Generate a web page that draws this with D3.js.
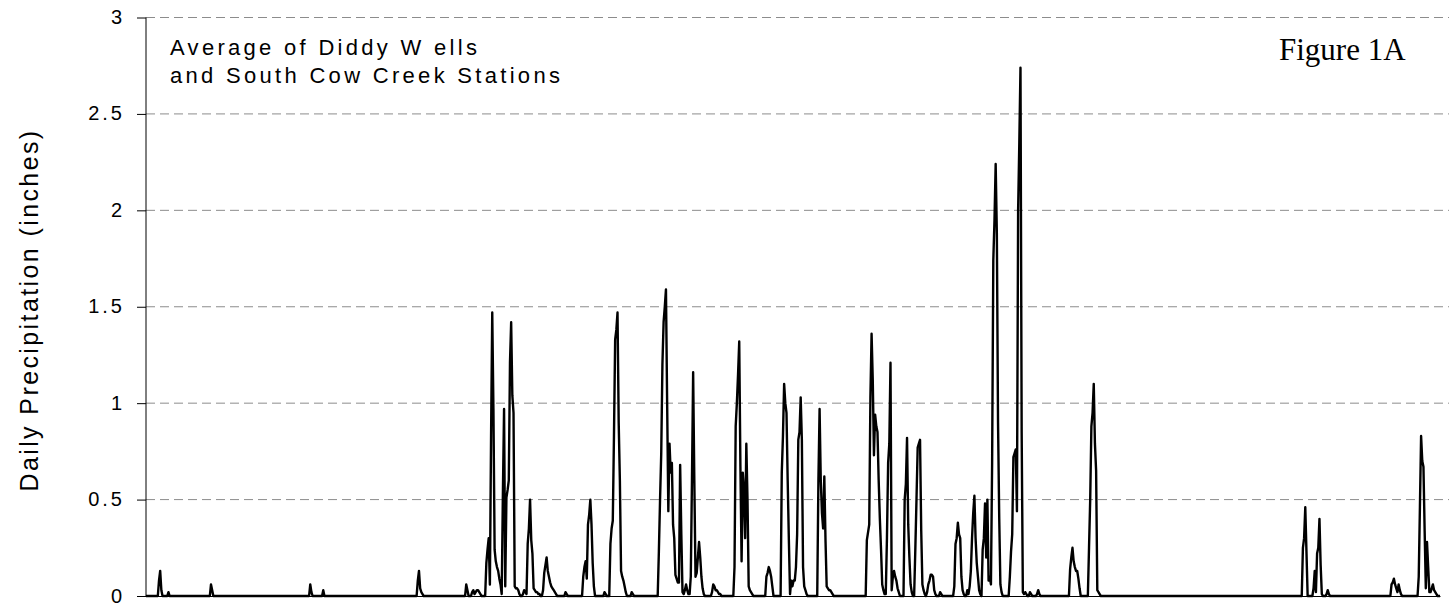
<!DOCTYPE html>
<html>
<head>
<meta charset="utf-8">
<script src="https://cdn.jsdelivr.net/npm/d3@7"></script>
<style>
  body { margin: 0; background: #fff; }
  svg { display: block; }
</style>
</head>
<body>
<div id="svg"></div>
<script>
//number of days on the x axis (no labels on it)
let nDays = 1096;
let yTicks = [0, 0.5, 1, 1.5, 2, 2.5, 3];
let yTickLabels = ['0', '0.5', '1', '1.5', '2', '2.5', '3'];
let yTitle = 'Daily Precipitation (inches)';
let noteLines = ['Average of Diddy W ells', 'and South Cow Creek Stations'];
let figLabel = 'Figure 1A';

//rain storms: first day of each storm and the daily amounts (inches) from that day on
let stormStart = [11, 19, 55, 139, 150, 230, 271, 276, 288, 319, 336, 355, 370, 388, 393, 411, 434, 479,
  498, 525, 538, 569, 610, 642, 651, 661, 672, 684, 695, 708, 731, 748, 754, 782, 798, 979, 988, 999, 1054, 1077];
let stormRain = [
  [0.08, 0.13, 0.03],
  [0.02],
  [0.06, 0.03],
  [0.06, 0.02],
  [0.03],
  [0.08, 0.13, 0.04, 0.02, 0.01],
  [0.06, 0.03],
  [0.02, 0.03, 0.01, 0.02, 0.03, 0.03, 0.02, 0.01],
  [0.17, 0.24, 0.3, 0.06, 0.83, 1.47, 0.97, 0.24, 0.18, 0.15, 0.13, 0.09, 0.06, 0.01, 0.53, 0.97, 0.05, 0.51, 0.55, 0.6, 1.21, 1.42, 1.04, 0.95, 0.05, 0.04, 0.04, 0.03, 0.01],
  [0.01, 0.03, 0.02, 0.01, 0.27, 0.35, 0.5, 0.29, 0.22, 0.04, 0.03, 0.02, 0.02, 0.01, 0.01],
  [0.03, 0.12, 0.16, 0.2, 0.13, 0.1, 0.07, 0.05, 0.04, 0.03, 0.02, 0.01],
  [0.02, 0.01],
  [0.1, 0.15, 0.18, 0.09, 0.37, 0.42, 0.5, 0.37, 0.17, 0.05],
  [0.02, 0.01],
  [0.27, 0.35, 0.39, 0.83, 1.33, 1.38, 1.47, 0.9, 0.6, 0.13, 0.1, 0.08, 0.05, 0.02],
  [0.02, 0.01],
  [0.23, 0.5, 0.74, 1.2, 1.42, 1.5, 1.59, 1.0, 0.44, 0.79, 0.64, 0.69, 0.37, 0.3, 0.11, 0.09, 0.07, 0.07, 0.68, 0.32, 0.02, 0.01, 0.03, 0.06, 0.03, 0.01, 0.01, 0.1, 0.6, 1.16, 0.6, 0.1, 0.12, 0.2, 0.28, 0.2, 0.1, 0.04, 0.01],
  [0.02, 0.06, 0.05, 0.03, 0.03, 0.02, 0.01, 0.01],
  [0.15, 0.88, 1.0, 1.15, 1.32, 0.67, 0.18, 0.64, 0.55, 0.3, 0.79, 0.5, 0.05, 0.03, 0.02, 0.01],
  [0.1, 0.12, 0.15, 0.13, 0.1, 0.05],
  [0.64, 0.83, 1.1, 1.0, 0.95, 0.6, 0.29, 0.01, 0.08, 0.05, 0.08, 0.08, 0.15, 0.32, 0.81, 0.85, 1.03, 0.81, 0.15, 0.05, 0.03, 0.01],
  [0.6, 0.97, 0.6, 0.43, 0.35, 0.62, 0.29, 0.05, 0.04, 0.03, 0.03, 0.02, 0.01],
  [0.29, 0.33, 0.37, 1.03, 1.36, 1.12, 0.73, 0.94, 0.88, 0.85, 0.6, 0.4, 0.24, 0.06, 0.03, 0.01, 0.01, 0.3, 0.69, 0.79, 1.21, 0.03, 0.1, 0.13, 0.1, 0.08, 0.04, 0.02],
  [0.5, 0.58, 0.82, 0.37, 0.2, 0.06, 0.02],
  [0.24, 0.5, 0.77, 0.79, 0.81, 0.34, 0.06, 0.03, 0.01],
  [0.02, 0.06, 0.08, 0.11, 0.11, 0.1, 0.03, 0.01],
  [0.02, 0.01],
  [0.05, 0.27, 0.3, 0.38, 0.32, 0.3, 0.1, 0.03, 0.01],
  [0.03, 0.01, 0.05, 0.13, 0.3, 0.43, 0.52, 0.3, 0.17, 0.1, 0.03, 0.01],
  [0.24, 0.3, 0.48, 0.2, 0.5, 0.08, 0.1, 0.06, 0.69, 1.74, 1.95, 2.24, 1.88, 0.9, 0.41, 0.06, 0.02],
  [0.1, 0.23, 0.32, 0.72, 0.74, 0.76, 0.44, 2.0, 2.35, 2.74, 0.85, 0.02, 0.01, 0.02, 0.01],
  [0.02, 0.01],
  [0.01, 0.03, 0.01],
  [0.14, 0.2, 0.25, 0.18, 0.15, 0.13, 0.13, 0.09, 0.04],
  [0.25, 0.5, 0.88, 0.95, 1.1, 0.79, 0.65, 0.03, 0.02, 0.01],
  [0.25, 0.3, 0.46, 0.23],
  [0.04, 0.13, 0.02, 0.22, 0.25, 0.4, 0.16, 0.01],
  [0.01, 0.03, 0.01],
  [0.06, 0.07, 0.09, 0.06, 0.04, 0.02, 0.06, 0.03, 0.01],
  [0.1, 0.46, 0.83, 0.7, 0.67, 0.34, 0.04, 0.28, 0.15, 0.02, 0.02, 0.04, 0.06, 0.03, 0.02, 0.01]
];

//daily series: dry days are 0
let daily = d3.range(nDays).map(d => 0);
stormStart.forEach((s, i) => {
  stormRain[i].forEach((v, j) => { daily[s + j] = v; });
});

//dimensions of svg
let w = 1449;
let h = 605;
let padLeft = 146;
let padRight = 1440;
let padTop = 17.5;
let padBottom = 596;

let svg = d3.select('#svg').
append('svg').
attr('width', w).
attr('height', h);

let xScale = d3.scaleLinear().
domain([0, nDays - 1]).
range([padLeft, padRight]);

let yScale = d3.scaleLinear().
domain([0, 3]).
range([padBottom, padTop]);

//dashed gridlines
svg.append('g').
selectAll('line').
data(yTicks.filter(d => d > 0)).
enter().
append('line').
attr('x1', padLeft).
attr('x2', w).
attr('y1', d => yScale(d)).
attr('y2', d => yScale(d)).
attr('stroke', '#8c8c8c').
attr('stroke-width', 1).
attr('stroke-dasharray', '9,5');

//Y axis
let yAxis = d3.axisLeft(yScale).
tickValues(yTicks).
tickSize(9).
tickPadding(12).
tickFormat((d, i) => yTickLabels[i]);

let yG = svg.append('g').
attr('transform', 'translate(' + padLeft + ',0)').
call(yAxis);
yG.select('.domain').attr('stroke', '#000').attr('d', 'M0,' + padTop + 'V' + padBottom);
yG.selectAll('.tick line').attr('stroke', '#000');
yG.selectAll('.tick text').
attr('font-family', 'Liberation Sans, Arial, sans-serif').
attr('font-size', 20).
attr('letter-spacing', '3px').
attr('dy', '0.3em').
attr('fill', '#000');

//X axis baseline (no ticks)
svg.append('g').
attr('transform', 'translate(0,' + padBottom + ')').
call(d3.axisBottom(xScale).tickValues([]).tickSizeOuter(0)).
select('.domain').attr('stroke', '#000');

//precipitation line
let line = d3.line().
x((d, i) => xScale(i)).
y(d => yScale(d));

svg.append('path').
datum(daily).
attr('d', line).
attr('fill', 'none').
attr('stroke', '#000').
attr('stroke-width', 2.4).
attr('stroke-linejoin', 'round');

//Y title
svg.append('text').
text(yTitle).
attr('transform', 'translate(38,310) rotate(-90)').
attr('text-anchor', 'middle').
attr('font-family', 'Liberation Sans, Arial, sans-serif').
attr('font-size', 25).
attr('letter-spacing', '2.4px').
attr('fill', '#000');

//station note
svg.append('g').
selectAll('text').
data(noteLines).
enter().
append('text').
text(d => d).
attr('x', 170).
attr('y', (d, i) => 55 + i * 28).
attr('font-family', 'Liberation Sans, Arial, sans-serif').
attr('font-size', 22).
attr('letter-spacing', '3.3px').
attr('fill', '#000');

svg.append('text').
text(figLabel).
attr('x', 1279).
attr('y', 60).
attr('font-family', 'Liberation Serif, Times New Roman, serif').
attr('font-size', 31).
attr('fill', '#000');
</script>
</body>
</html>
